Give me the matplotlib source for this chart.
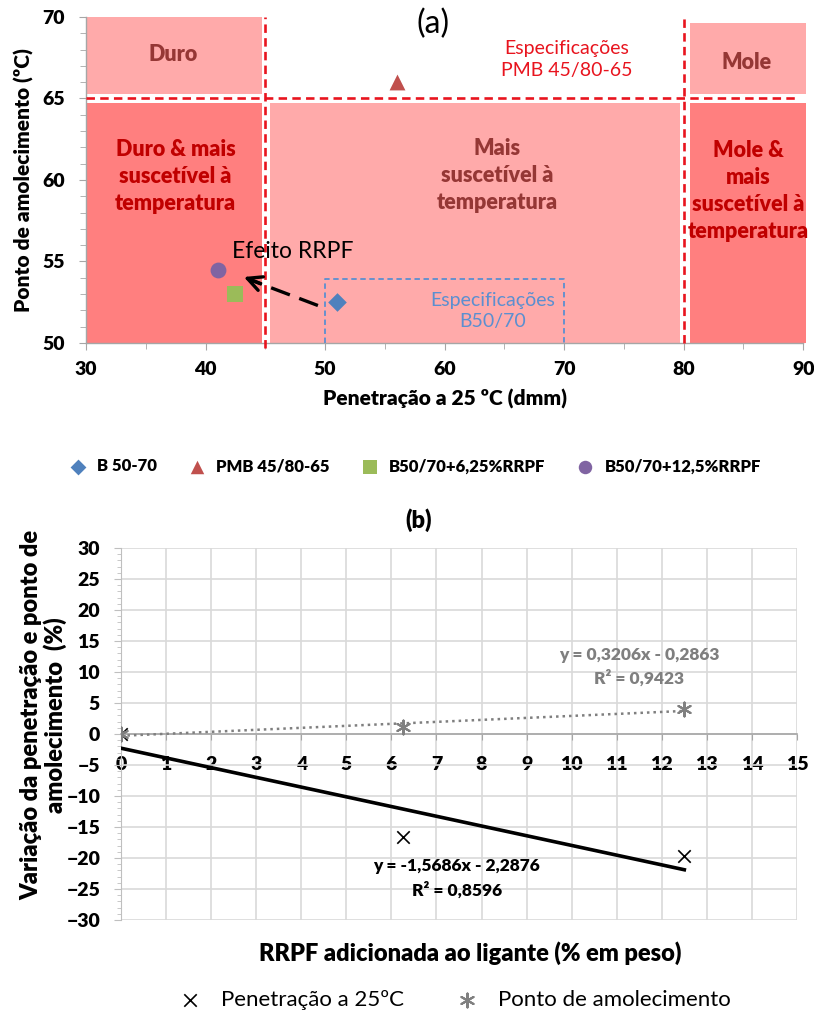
import numpy as np
import matplotlib
matplotlib.use("Agg")
import matplotlib.pyplot as plt
from matplotlib.patches import Rectangle
from matplotlib.ticker import MultipleLocator

plt.rcParams['font.family'] = ['Lato', 'DejaVu Sans']
BOLD = "heavy"

# ---------------- data: panel (a) ----------------
binder_names = ["B 50-70", "PMB 45/80-65", "B50/70+6,25%RRPF", "B50/70+12,5%RRPF"]
penetration = [51.0, 56.0, 42.5, 41.0]          # dmm
softening = [52.5, 66.0, 53.0, 54.5]            # ºC
binder_markers = ["D", "^", "s", "o"]
binder_colors = ["#4F81BD", "#C0504D", "#9BBB59", "#8064A2"]

# ---------------- data: panel (b) ----------------
rrpf_content = [0.0, 6.25, 12.5]                 # % em peso
pen_change = [0.0, -16.67, -19.61]               # %
soft_change = [0.0, 1.15, 4.01]                  # %
pen_fit = (-1.5686, -2.2876, 0.8596)             # slope, intercept, R²
soft_fit = (0.3206, -0.2863, 0.9423)

LIGHT = "#FFAAAA"
DARK = "#FF7F7F"
RED = "#E8141E"
BROWN = "#953735"
DARKRED = "#C00000"
BLUE_SPEC = "#5B8FD0"

fig = plt.figure(figsize=(8.14, 10.16), dpi=100)

# ======================= (a) =======================
ax = fig.add_axes([0.1057, 0.6624, 0.881, 0.3209])
ax.set_xlim(30, 90)
ax.set_ylim(50, 70)

# zone backgrounds
zones = [
    (30, 65.3, 44.7, 70.0, LIGHT),
    (30, 50.0, 44.7, 64.7, DARK),
    (45.4, 50.0, 79.7, 64.7, LIGHT),
    (80.5, 65.3, 90.2, 69.6, LIGHT),
    (80.5, 50.0, 90.2, 64.7, DARK),
]
for x0, y0, x1, y1, c in zones:
    ax.add_patch(Rectangle((x0, y0), x1 - x0, y1 - y0, facecolor=c,
                           edgecolor="none", zorder=1, clip_on=False))

# PMB 45/80-65 specification limits
dash = (0, (3.2, 2.0))
ax.plot([30, 89.5], [65, 65], color=RED, lw=1.9, ls=dash, zorder=3, clip_on=False)
ax.plot([45, 45], [49.7, 70], color=RED, lw=1.9, ls=dash, zorder=3, clip_on=False)
ax.plot([80, 80], [50, 70], color=RED, lw=1.9, ls=dash, zorder=3, clip_on=False)

# B50/70 specification box
ax.plot([50, 50, 70, 70], [50, 53.9, 53.9, 50], color=BLUE_SPEC, lw=1.3,
        ls=(0, (3, 2)), zorder=3)

for x, y, m, c, n in zip(penetration, softening, binder_markers, binder_colors, binder_names):
    ax.scatter([x], [y], marker=m, s=130 if m != "D" else 90, color=c, zorder=5,
               label=n, linewidths=0)

# RRPF effect arrow
ax.plot([49.4, 44.0], [52.3, 53.8], color="black", lw=2.4,
        ls=(0, (6, 3)), zorder=4, solid_capstyle="butt")
ax.annotate("", xy=(43.2, 54.05), xytext=(44.6, 53.65),
            arrowprops=dict(arrowstyle="->", lw=2.4, color="black",
                            mutation_scale=26, shrinkA=0, shrinkB=0), zorder=4)
ax.text(42.2, 55.6, "Efeito RRPF", fontsize=16.5, color="black", va="center",
        ha="left", zorder=6)

# zone labels
zkw = dict(fontsize=15.5, fontweight=BOLD, ha="center", va="center", linespacing=1.35)
ax.text(37.3, 67.7, "Duro", color=BROWN, **zkw)
ax.text(37.5, 60.2, "Duro & mais\nsuscetível à\ntemperatura", color=DARKRED, **zkw)
ax.text(64.4, 60.3, "Mais\nsuscetível à\ntemperatura", color=BROWN, **zkw)
ax.text(85.3, 67.2, "Mole", color=BROWN, **zkw)
ax.text(85.4, 59.3, "Mole &\nmais\nsuscetível à\ntemperatura", color=DARKRED, **zkw)
ax.text(70.2, 67.4, "Especificações\nPMB 45/80-65", fontsize=14, color=RED,
        ha="center", va="center", linespacing=1.35)
ax.text(64.0, 51.95, "Especificações\nB50/70", fontsize=14, color=BLUE_SPEC,
        ha="center", va="center", linespacing=1.3, zorder=4)
ax.text(59.0, 69.6, "(a)", fontsize=23, color="black", ha="center", va="center")

for s in ["top", "right"]:
    ax.spines[s].set_visible(False)
for s in ["left", "bottom"]:
    ax.spines[s].set_color("#A6A6A6")
    ax.spines[s].set_linewidth(1.0)
ax.xaxis.set_major_locator(MultipleLocator(10))
ax.xaxis.set_minor_locator(MultipleLocator(5))
ax.yaxis.set_major_locator(MultipleLocator(5))
ax.yaxis.set_minor_locator(MultipleLocator(1))
ax.tick_params(axis="both", which="both", color="#A6A6A6", direction="out")
ax.tick_params(axis="both", which="major", length=5, labelsize=14)
ax.tick_params(axis="both", which="minor", length=4)
ax.tick_params(axis="y", pad=10)
ax.tick_params(axis="x", pad=8)
for lab in ax.get_xticklabels() + ax.get_yticklabels():
    lab.set_fontweight(BOLD)
ax.set_xlabel("Penetração a 25 ºC (dmm)", fontsize=15, fontweight=BOLD, labelpad=8)
ax.set_ylabel("Ponto de amolecimento (ºC)", fontsize=15, fontweight=BOLD, labelpad=6)

h, l = ax.get_legend_handles_labels()
fig.legend(h, l, loc="center", bbox_to_anchor=(0.505, 0.541), ncol=4,
           frameon=False, handletextpad=0.15, columnspacing=1.4,
           prop=dict(size=12, weight=BOLD), markerscale=0.85)

# ======================= (b) =======================
bx = fig.add_axes([0.1486, 0.0945, 0.8305, 0.3661])
bx.set_xlim(0, 15)
bx.set_ylim(-30, 30)
bx.xaxis.set_major_locator(MultipleLocator(1))
bx.yaxis.set_major_locator(MultipleLocator(5))
bx.yaxis.set_minor_locator(MultipleLocator(1))
bx.grid(True, which="major", color="#D9D9D9", lw=1.2, zorder=0)
bx.set_axisbelow(True)
bx.spines["top"].set_visible(False)
bx.spines["right"].set_visible(False)
bx.spines["left"].set_color("#BFBFBF")
bx.spines["bottom"].set_position(("data", 0))
bx.spines["bottom"].set_color("#A6A6A6")
bx.spines["bottom"].set_linewidth(1.2)
bx.tick_params(axis="x", which="major", length=4, color="#A6A6A6", pad=12, labelsize=14)
bx.tick_params(axis="y", which="major", length=5, color="#BFBFBF", pad=10, labelsize=14)
bx.tick_params(axis="y", which="minor", length=3, color="#BFBFBF")
for lab in bx.get_xticklabels() + bx.get_yticklabels():
    lab.set_fontweight(BOLD)

xfit = np.array([rrpf_content[0], rrpf_content[-1]])
bx.plot(xfit, pen_fit[0] * xfit + pen_fit[1], color="black", lw=2.6, zorder=3)
bx.plot(xfit, soft_fit[0] * xfit + soft_fit[1], color="#7F7F7F", lw=1.8,
        ls=(0, (1, 1.6)), zorder=3)
bx.scatter(rrpf_content, pen_change, marker="x", s=80, color="black", lw=1.2,
           zorder=4, label="Penetração a 25ºC")
bx.scatter(rrpf_content, soft_change, marker=(6, 2, 0), s=100, color="#808080", lw=1.5,
           zorder=4, label="Ponto de amolecimento")


def eq_text(fit):
    sl, ic, r2 = fit
    sign = "-" if ic < 0 else "+"
    return (f"y = {sl:.4f}x {sign} {abs(ic):.4f}".replace(".", ",")
            + "\n" + f"R² = {r2:.4f}".replace(".", ","))


bx.text(11.5, 10.8, eq_text(soft_fit), fontsize=12.5, fontweight=BOLD,
        color="#7F7F7F", ha="center", va="center", linespacing=1.45)
bx.text(7.45, -23.3, eq_text(pen_fit), fontsize=12.5, fontweight=BOLD,
        color="black", ha="center", va="center", linespacing=1.55)

bx.set_xlabel("RRPF adicionada ao ligante (% em peso)", fontsize=17, fontweight=BOLD)
bx.xaxis.set_label_coords(0.516, -0.058)
bx.set_ylabel("Variação da penetração e ponto de\namolecimento  (%)", fontsize=17,
              fontweight=BOLD, linespacing=1.05)
bx.yaxis.set_label_coords(-0.08, 0.55)
fig.text(0.514, 0.488, "(b)", fontsize=17, fontweight=BOLD, ha="center", va="center")

h, l = bx.get_legend_handles_labels()
fig.legend(h, l, loc="center", bbox_to_anchor=(0.552, 0.016), ncol=2,
           frameon=False, handletextpad=0.4, columnspacing=1.8,
           prop=dict(size=16))

fig.savefig("out.png", dpi=100)
